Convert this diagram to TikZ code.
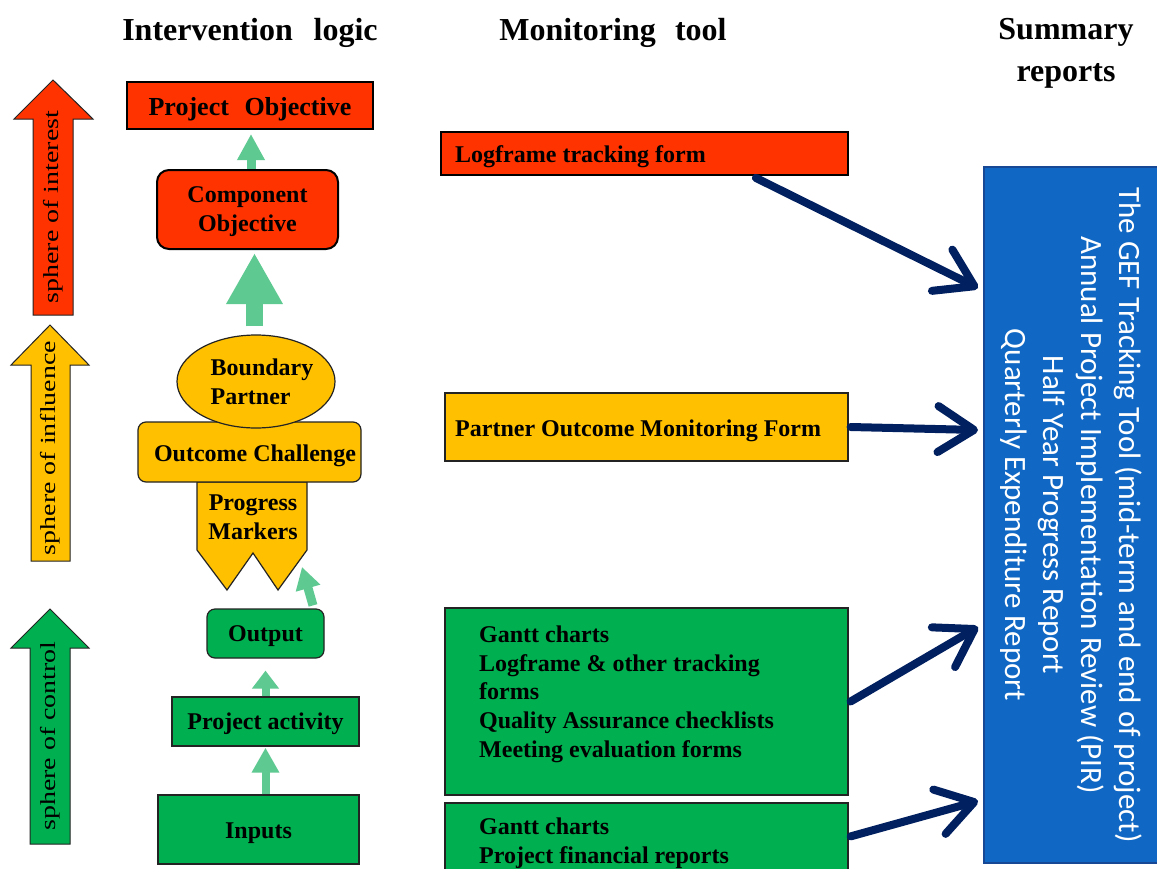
\documentclass[tikz,border=0pt]{standalone}
\usepackage{fontspec}
\usepackage{graphicx}
\setmainfont{Liberation Serif}
\newfontfamily\calib{Carlito}
\usetikzlibrary{arrows.meta,shapes.geometric}
\definecolor{cred}{RGB}{255,51,0}
\definecolor{cyel}{RGB}{255,192,0}
\definecolor{cgrn}{RGB}{0,176,80}
\definecolor{cblue}{RGB}{16,104,196}
\definecolor{cblueb}{RGB}{22,72,150}
\definecolor{navy}{RGB}{0,32,96}
\definecolor{lgrn}{RGB}{95,201,146}
\definecolor{edge}{RGB}{35,35,35}
\begin{document}
\begin{tikzpicture}[x=1pt,y=-1pt,
  box/.style={draw=edge, line width=1.2pt, inner sep=0pt, font=\bfseries\fontsize{24}{28}\selectfont, align=center},
  lbl/.style={inner sep=0pt, font=\bfseries\fontsize{24}{28.8}\selectfont, align=left},
  head/.style={inner sep=0pt, font=\bfseries\fontsize{32}{42}\selectfont, align=center},
  spheretxt/.style={inner sep=0pt, rotate=90, font=\fontsize{21.5}{24}\selectfont},
  sphere/.style={draw=edge, line width=1pt},
  garrow/.style={draw=lgrn, line width=9pt, -{Triangle[length=26pt,width=26pt]}},
  narrow/.style={draw=navy, line width=8pt, line cap=round, -{Straight Barb[length=36pt,width=46pt,round]}}
]
\useasboundingbox (0,0) rectangle (1157,868);
\fill[white] (0,0) rectangle (1157,868);

% headers
\node[head, anchor=base] (h1) at (250,40) {Intervention\hspace{0.65em}logic};
\node[head, anchor=base] (h2) at (613,40) {Monitoring\hspace{0.6em}tool};
\node[head, anchor=north] (h3) at (1066,18) {Summary\\reports};

% sphere arrows
\draw[sphere, fill=cred] (33,315) -- (33,119) -- (14,119) -- (53,80) -- (93,119) -- (73,119) -- (73,315) -- cycle;
\draw[sphere, fill=cyel] (31,561) -- (31,365) -- (11,365) -- (50,325) -- (89,365) -- (70,365) -- (70,561) -- cycle;
\draw[sphere, fill=cgrn] (30,844) -- (30,648) -- (11,648) -- (50,609) -- (89,648) -- (70,648) -- (70,844) -- cycle;
\node[spheretxt] (s1) at (53,207) {\scalebox{1.3}[1]{sphere of interest}};
\node[spheretxt] (s2) at (50,448) {\scalebox{1.3}[1]{sphere of influence}};
\node[spheretxt] (s3) at (50,736) {\scalebox{1.3}[1]{sphere of control}};

% intervention logic column
\node[box, fill=cred, line width=2pt, draw=black, minimum width=246pt, minimum height=47pt] (proj) at (250,105.5) {};
\node[inner sep=0pt, font=\bfseries\fontsize{26}{30}\selectfont, anchor=base] (projtxt) at (250,115) {Project\hspace{0.6em}Objective};
\node[box, fill=cred, line width=2pt, draw=black, rounded corners=12pt, minimum width=181pt, minimum height=79pt] (comp) at (247.5,209.5) {};
\node[lbl, align=center] (comptxt) at (247.5,212) {Component\\Objective};

\draw[draw=edge, line width=1.2pt, fill=cyel] (197,482) -- (197,550) -- (227,590) -- (253,553) -- (278,590) -- (307,550) -- (307,482) -- cycle;
\node[lbl, align=center] (pm) at (253,517) {Progress\\Markers};
\node[box, fill=cyel, rounded corners=8pt, minimum width=223pt, minimum height=60pt] (oc) at (249.5,452) {};
\node[lbl, anchor=base] (octxt) at (255,461) {Outcome Challenge};
\node[box, fill=cyel, ellipse, minimum width=158pt, minimum height=93pt] (bp) at (256,381.5) {};
\node[lbl] (bptxt) at (262,382) {Boundary\\Partner};

\node[box, fill=cgrn, rounded corners=8pt, minimum width=117pt, minimum height=49pt] (out) at (265.5,633.5) {};
\node[lbl, anchor=base] (outtxt) at (265.5,641) {Output};
\node[box, fill=cgrn, minimum width=187pt, minimum height=49pt] (pa) at (265.5,721.5) {};
\node[lbl, anchor=base] (patxt) at (265.5,729) {Project activity};
\node[box, fill=cgrn, minimum width=201pt, minimum height=69pt] (inp) at (258.5,829.5) {};
\node[lbl, anchor=base] (inptxt) at (258.5,838) {Inputs};

\coordinate (x1) at (251,0);
\coordinate (x2) at (254.5,0);
\coordinate (pmr) at (302,567);
\draw[garrow, shorten >=4pt] (comp.north -| x1) -- (proj.south -| x1);
\draw[draw=lgrn, line width=17pt, -{Triangle[length=51pt,width=53pt]}, shorten <=8pt, shorten >=3pt] (bp.north -| x2) -- (comp.south -| x2);
\draw[draw=lgrn, line width=9pt, -{Triangle[length=22pt,width=24pt]}] ([xshift=47.5pt,yshift=3pt]out.north) -- (pmr);
\draw[draw=lgrn, line width=8pt, -{Triangle[length=18pt,width=26pt]}, shorten >=12pt] (pa.north) -- (out.south);
\draw[draw=lgrn, line width=8pt, -{Triangle[length=25pt,width=26pt]}, shorten >=1pt] (inp.north -| pa.south) -- (pa.south);

% monitoring tool column
\node[box, fill=cred, line width=1.8pt, draw=black, minimum width=407pt, minimum height=43pt] (lf) at (644.5,153.5) {};
\node[lbl, anchor=base west] (lftxt) at (455,162) {Logframe tracking form};
\node[box, fill=cyel, minimum width=403pt, minimum height=68pt] (pom) at (646.5,427) {};
\node[lbl, anchor=base west] (pomtxt) at (455,436) {Partner Outcome Monitoring Form};
\node[box, fill=cgrn, minimum width=403pt, minimum height=187pt] (g1) at (646.5,701.5) {};
\node[lbl, anchor=north west] (g1txt) at (479,625.5) {Gantt charts\\Logframe \& other tracking\\forms\\Quality Assurance checklists\\Meeting evaluation forms};
\node[box, fill=cgrn, minimum width=403pt, minimum height=97pt] (g2) at (646.5,851.5) {};
\node[lbl, anchor=north west] (g2txt) at (479,818) {Gantt charts\\Project financial reports};

% summary reports
\node[draw=cblueb, line width=1.5pt, fill=cblue, minimum width=196pt, minimum height=696pt, inner sep=0pt] (blue) at (1082,515) {};
\node[inner sep=0pt, rotate=-90, text=white, align=center, font=\calib\fontsize{31}{38}\selectfont] (bluetxt) at (1071.5,515)
  {The GEF Tracking Tool (mid-term and end of project)\\Annual Project Implementation Review (PIR)\\Half Year Progress Report\\Quarterly Expenditure Report};

% connectors to summary
\coordinate (t1) at (978,288);
\coordinate (t2) at (978,430);
\coordinate (t3) at (978,627);
\coordinate (t4) at (978,801);
\draw[narrow] ([xshift=-93pt,yshift=-2pt]lf.south east) -- (t1);
\draw[narrow] ([xshift=2pt]pom.east) -- (t2);
\draw[narrow] ([xshift=2pt]g1.east) -- (t3);
\draw[narrow] ([xshift=2pt,yshift=-34pt]g2.north east) -- (t4);
\end{tikzpicture}
\end{document}
